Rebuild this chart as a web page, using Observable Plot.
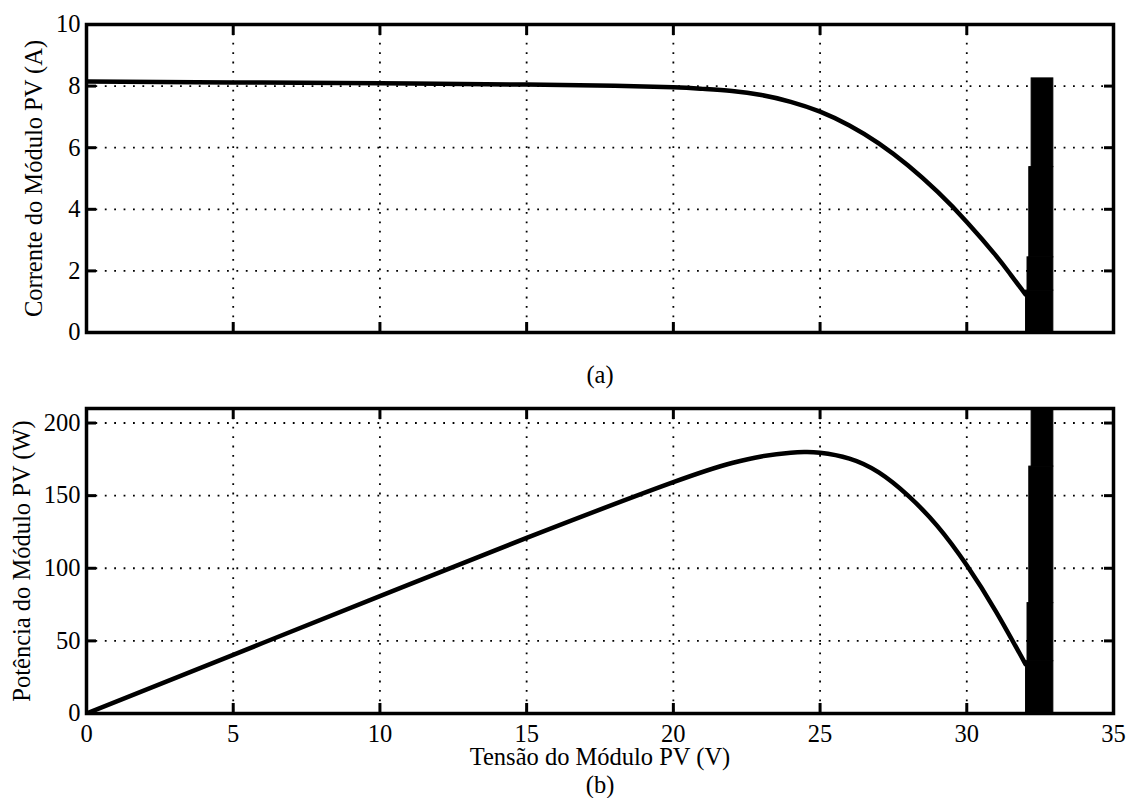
<!DOCTYPE html>
<html>
<head>
<meta charset="utf-8">
<script src="https://cdn.jsdelivr.net/npm/d3@7"></script>
<script src="https://cdn.jsdelivr.net/npm/@observablehq/plot@0.6"></script>
<style>
  html, body { margin: 0; padding: 0; background: white; }
  #chart svg { display: block; }
</style>
</head>
<body>
<div id="chart"></div>
<script>
// ---- Data ----
// (a) I-V curve
const voltageA = [0, 5, 10, 15, 18, 20, 21, 22, 23, 24, 25, 26, 27, 28, 29, 30, 31, 31.5, 32];
const currentA = [8.15, 8.12, 8.09, 8.05, 8.01, 7.96, 7.91, 7.84, 7.71, 7.49, 7.17, 6.72, 6.14, 5.42, 4.57, 3.59, 2.49, 1.87, 1.24];
// (a) oscillation band around the operating point
const bandA_iLow   = [0, 1.36, 2.44, 5.37];
const bandA_iHigh  = [1.36, 2.44, 5.37, 8.25];
const bandA_vLeft  = [32.02, 32.07, 32.13, 32.21];
const bandA_vRight = [32.95, 32.95, 32.95, 32.95];

// (b) P-V curve
const voltageB = [0, 5, 10, 15, 20, 22, 23, 24, 24.5, 25, 26, 27, 28, 29, 30, 31, 32];
const powerB   = [0, 40.4, 80.8, 120.9, 159.3, 172.5, 177, 179.6, 180, 179.5, 175.5, 166, 150, 129, 102, 70, 34];
// (b) oscillation band
const bandB_pLow   = [0, 36, 76, 170];
const bandB_pHigh  = [36, 76, 170, 275];
const bandB_vLeft  = [32.02, 32.07, 32.13, 32.21];
const bandB_vRight = [32.95, 32.95, 32.95, 32.95];

// Ticks and labels
const xTicks = [0, 5, 10, 15, 20, 25, 30, 35];
const yTicksA = [0, 2, 4, 6, 8, 10];
const yTicksB = [0, 50, 100, 150, 200];
const labelYA = "Corrente do Módulo PV (A)";
const labelYB = "Potência do Módulo PV (W)";
const labelX = "Tensão do Módulo PV (V)";
const captionA = "(a)";
const captionB = "(b)";

// ---- Drawing ----
const FONT = "'Liberation Serif', 'Times New Roman', serif";
const FS = 24.5;
const font = {fontFamily: FONT, fontSize: FS + "px", color: "black", background: "white", overflow: "visible"};
const gridStyle = {stroke: "black", strokeOpacity: 1, strokeWidth: 1.8, strokeDasharray: "1.8,7.6"};
const tickStyle = {tickSize: -10, strokeWidth: 3, label: null, fontSize: FS, fontFamily: FONT};
const textStyle = {text: d => d, fontSize: FS, fontFamily: FONT, textAnchor: "middle", lineAnchor: "middle"};

const curveA = voltageA.map((v, i) => ({v, y: currentA[i]}));
const curveB = voltageB.map((v, i) => ({v, y: powerB[i]}));
const bandA = bandA_iLow.map((_, i) => ({x1: bandA_vLeft[i], x2: bandA_vRight[i], y1: bandA_iLow[i], y2: bandA_iHigh[i]}));
const bandB = bandB_pLow.map((_, i) => ({x1: bandB_vLeft[i], x2: bandB_vRight[i], y1: bandB_pLow[i], y2: bandB_pHigh[i]}));

const plotA = Plot.plot({
  width: 1127, height: 350,
  marginLeft: 86, marginRight: 14, marginTop: 24, marginBottom: 18,
  style: font,
  x: {domain: [0, 35]},
  y: {domain: [0, 10]},
  marks: [
    Plot.gridX(xTicks, gridStyle),
    Plot.gridY(yTicksA, gridStyle),
    Plot.rect(bandA, {x1: "x1", x2: "x2", y1: "y1", y2: "y2", fill: "black", stroke: "black", strokeWidth: 1, clip: true}),
    Plot.line(curveA, {x: "v", y: "y", stroke: "black", strokeWidth: 4.5, curve: "natural", clip: true}),
    Plot.axisY(yTicksA, {anchor: "left", tickPadding: 16, ...tickStyle}),
    Plot.axisY(yTicksA, {anchor: "right", tickFormat: () => "", ...tickStyle}),
    Plot.axisX(xTicks, {anchor: "bottom", tickFormat: () => "", ...tickStyle}),
    Plot.axisX(xTicks, {anchor: "top", tickFormat: () => "", ...tickStyle}),
    Plot.frame({stroke: "black", strokeWidth: 3.5}),
    Plot.text([labelYA], {...textStyle, frameAnchor: "left", rotate: -90, dx: -52})
  ]
});

const plotB = Plot.plot({
  width: 1127, height: 448,
  marginLeft: 86, marginRight: 14, marginTop: 58, marginBottom: 85,
  style: font,
  x: {domain: [0, 35]},
  y: {domain: [0, 210]},
  marks: [
    Plot.gridX(xTicks, gridStyle),
    Plot.gridY(yTicksB, gridStyle),
    Plot.rect(bandB, {x1: "x1", x2: "x2", y1: "y1", y2: "y2", fill: "black", stroke: "black", strokeWidth: 1, clip: true}),
    Plot.line(curveB, {x: "v", y: "y", stroke: "black", strokeWidth: 4.5, curve: "natural", clip: true}),
    Plot.axisY(yTicksB, {anchor: "left", tickPadding: 16, ...tickStyle}),
    Plot.axisY(yTicksB, {anchor: "right", tickFormat: () => "", ...tickStyle}),
    Plot.axisX(xTicks, {anchor: "bottom", tickPadding: 21, ...tickStyle}),
    Plot.axisX(xTicks, {anchor: "top", tickFormat: () => "", ...tickStyle}),
    Plot.frame({stroke: "black", strokeWidth: 3.5}),
    Plot.text([labelYB], {...textStyle, frameAnchor: "left", rotate: -90, dx: -64}),
    Plot.text([captionA], {...textStyle, frameAnchor: "top", dy: -33.5}),
    Plot.text([labelX], {...textStyle, frameAnchor: "bottom", dy: 44}),
    Plot.text([captionB], {...textStyle, frameAnchor: "bottom", dy: 72})
  ]
});

const chart = document.getElementById("chart");
chart.appendChild(plotA);
chart.appendChild(plotB);
</script>
</body>
</html>
